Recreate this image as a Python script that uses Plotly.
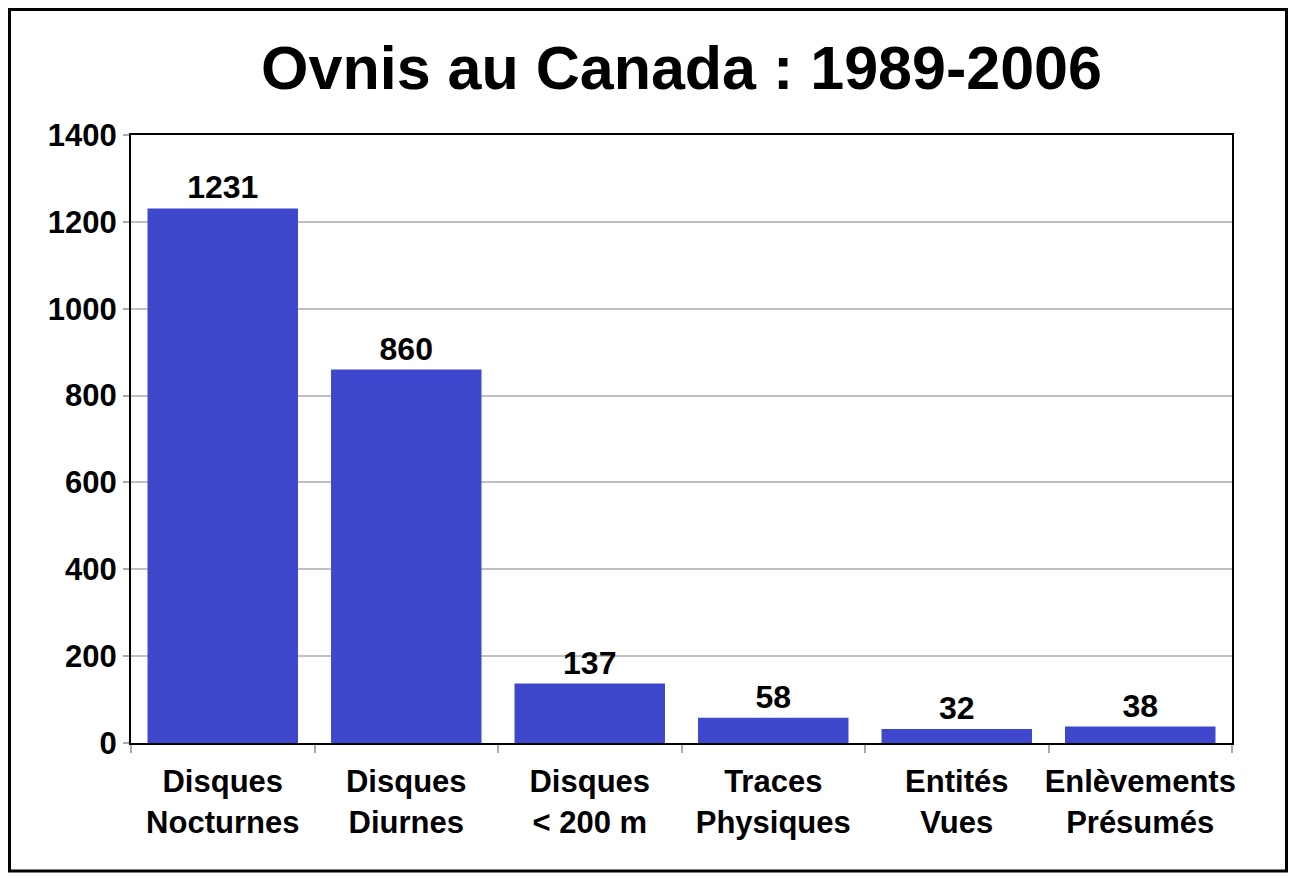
import plotly.graph_objects as go

categories = ["Disques<br>Nocturnes", "Disques<br>Diurnes", "Disques<br>< 200 m",
              "Traces<br>Physiques", "Entités<br>Vues", "Enlèvements<br>Présumés"]
values = [1231, 860, 137, 58, 32, 38]
y_ticks = [0, 200, 400, 600, 800, 1000, 1200, 1400]

FONT = "Liberation Sans, Arial, sans-serif"
# page has 8px body margin, so figure is 1280x870 placed at (8,8)
W, H = 1280, 870
L, R, T, B = 123, 56, 127, 135
pw, ph = W - L - R, H - T - B
bottom = T + ph

fig = go.Figure(go.Bar(
    x=categories, y=values,
    marker=dict(color="#3f48cc", line=dict(width=0)),
    text=[str(v) for v in values], textposition="outside",
    textfont=dict(family=FONT, size=32, color="black", weight="bold"),
    cliponaxis=False,
))

fx0 = (1.5 - L) / pw
fx1 = (1278.5 - L) / pw
fy0 = (bottom - 863) / ph
fy1 = (bottom - 1.5) / ph

fig.update_layout(
    width=W, height=H,
    margin=dict(l=L, r=R, t=T, b=B),
    paper_bgcolor="white", plot_bgcolor="white",
    bargap=0.18,
    showlegend=False,
    title=dict(text="Ovnis au Canada : 1989-2006", x=0.5, xref="paper",
               y=1 - 60 / H, yref="container", xanchor="center", yanchor="middle",
               font=dict(family=FONT, size=61, color="black", weight="bold")),
    xaxis=dict(showline=True, linecolor="black", linewidth=2, mirror=True,
               ticks="outside", tickson="boundaries", ticklen=8, tickcolor="#aaaaaa",
               tickwidth=2, tickangle=0, automargin=False, ticklabelstandoff=10,
               tickfont=dict(family=FONT, size=31, color="black", weight="bold"),
               showgrid=False),
    yaxis=dict(range=[0, 1400], tickvals=y_ticks, showline=True, linecolor="black",
               linewidth=2, mirror=True, ticks="outside", ticklen=6,
               tickcolor="#aaaaaa", tickwidth=2, automargin=False,
               tickfont=dict(family=FONT, size=31, color="black", weight="bold"),
               showgrid=True, gridcolor="#c0c0c0", gridwidth=2, zeroline=False),
    shapes=[dict(type="rect", xref="paper", yref="paper", x0=fx0, x1=fx1, y0=fy0, y1=fy1,
                 line=dict(color="black", width=3), fillcolor="rgba(0,0,0,0)", layer="above")],
)

fig.write_html("out.html")
